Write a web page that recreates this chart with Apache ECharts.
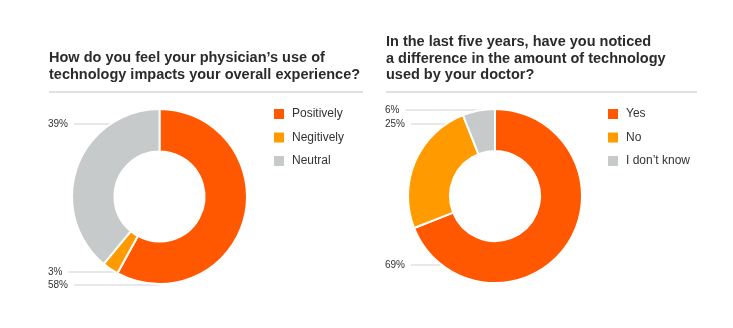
<!DOCTYPE html>
<html><head><meta charset="utf-8">
<script src="https://cdn.jsdelivr.net/npm/echarts@6/dist/echarts.min.js"></script>
<style>html,body{margin:0;padding:0;background:#fff}#c{width:733px;height:328px}</style>
</head><body><div id="c"></div>
<script>
const leftCategories = ['Positively', 'Negitively', 'Neutral'];
const leftValues = [58, 3, 39];
const rightCategories = ['Yes', 'No', "I don\u2019t know"];
const rightValues = [69, 25, 6];
const colors = ['#ff5800', '#ff9b00', '#c6caca'];
const leftTitle = "How do you feel your physician\u2019s use of\ntechnology impacts your overall experience?";
const rightTitle = "In the last five years, have you noticed\na difference in the amount of technology\nused by your doctor?";

// label layout (positions only)
const leftLabelY = [285, 272, 124];
const rightLabelY = [265, 124, 110];
const FONT = 'Arial, "Liberation Sans", Helvetica, sans-serif';

function makeLayout(cx, cy, r, lx, ys) {
  return function (p) {
    const y = ys[p.dataIndex];
    const dy = y - cy;
    const ex = cx - Math.sqrt(Math.max(0, r * r - dy * dy));
    const sx = lx + p.labelRect.width + 6;
    return {
      x: lx, y: y, align: 'left', verticalAlign: 'middle',
      labelLinePoints: [[sx, y], [sx, y], [ex, y]]
    };
  };
}

function pie(name, cats, vals, cx, cy, r, lx, ys) {
  return {
    type: 'pie', name: name,
    center: [cx, cy], radius: [45, r],
    startAngle: 90, clockwise: true,
    avoidLabelOverlap: false,
    itemStyle: { borderColor: '#fff', borderWidth: 2 },
    label: { show: true, position: 'outside', formatter: '{c}%', fontSize: 10, color: '#333', fontFamily: FONT },
    labelLine: { show: true, length: 5, length2: 5, lineStyle: { color: '#cfd2d2', width: 1 } },
    labelLayout: makeLayout(cx, cy, r, lx, ys),
    emphasis: { disabled: true },
    data: cats.map((c, i) => ({ name: c, value: vals[i], itemStyle: { color: colors[i] } }))
  };
}

const titleStyle = { fontSize: 14.5, fontWeight: 'bold', color: '#2b2b2b', lineHeight: 16.5, fontFamily: FONT };
const legendBase = {
  orient: 'vertical', top: 103, icon: 'rect', itemWidth: 10, itemHeight: 10, itemGap: 11.5,
  itemStyle: { borderWidth: 0 },
  textStyle: { fontSize: 12, color: '#333', fontFamily: FONT, padding: [0, 0, 0, 3] }, selectedMode: false
};

const chart = echarts.init(document.getElementById('c'), null, { renderer: 'canvas' });
chart.setOption({
  animation: false,
  textStyle: { fontFamily: FONT },
  title: [
    { text: leftTitle, left: 44, top: 45, textStyle: titleStyle },
    { text: rightTitle, left: 381, top: 29, textStyle: titleStyle }
  ],
  legend: [
    Object.assign({ data: leftCategories, left: 269 }, legendBase),
    Object.assign({ data: rightCategories, left: 603 }, legendBase)
  ],
  graphic: [
    { type: 'rect', shape: { x: 49, y: 91, width: 314, height: 2 }, style: { fill: '#e0e2e2' } },
    { type: 'rect', shape: { x: 386, y: 91, width: 311, height: 2 }, style: { fill: '#e0e2e2' } }
  ],
  series: [
    pie('left', leftCategories, leftValues, 159.5, 196.5, 87.5, 48, leftLabelY),
    pie('right', rightCategories, rightValues, 495, 196, 87, 385, rightLabelY)
  ]
});
</script></body></html>
